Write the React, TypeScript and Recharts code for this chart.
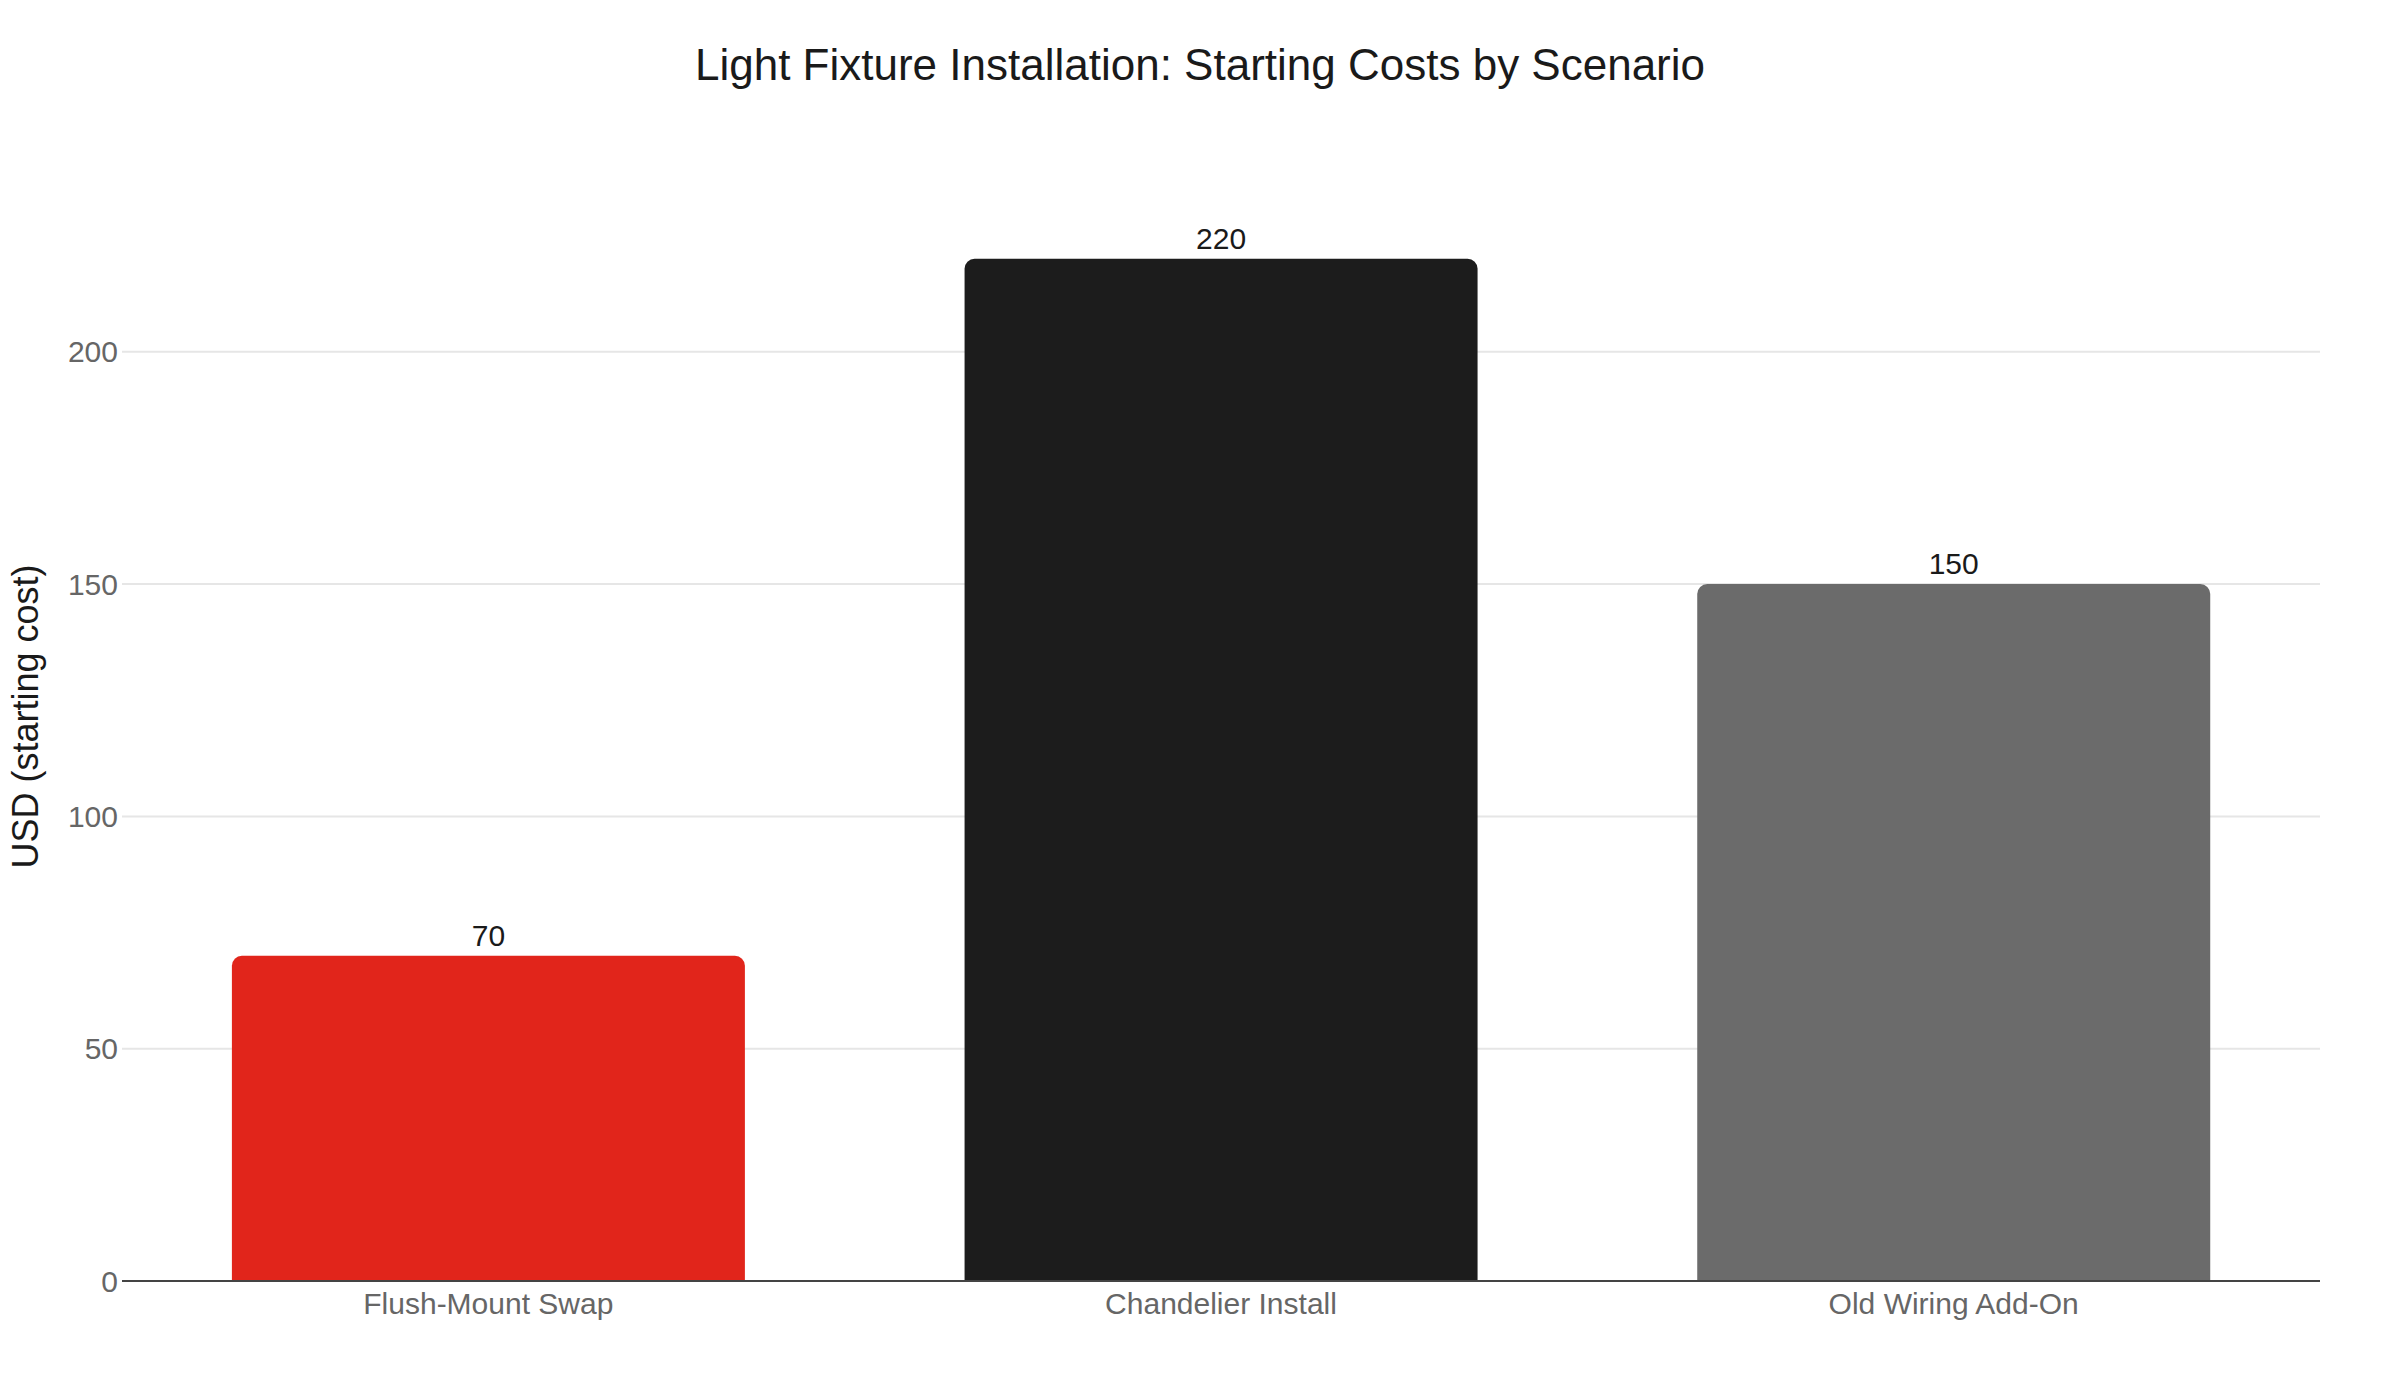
import React from 'react'
import { BarChart, Bar, XAxis, YAxis, CartesianGrid, Cell, LabelList } from 'recharts'

const scenarios = ['Flush-Mount Swap', 'Chandelier Install', 'Old Wiring Add-On']
const startingCosts = [70, 220, 150]
const barColors = ['#E1251B', '#1C1C1C', '#6B6B6B']
const yTicks = [0, 50, 100, 150, 200]

const data = scenarios.map((name, i) => ({ name, cost: startingCosts[i] }))

const FONT = '"Liberation Sans", Arial, Helvetica, sans-serif'

// y axis title, centred on the plot area
function YTitle(props: any) {
  const vb = props.viewBox || {}
  const cy = vb.y + vb.height / 2
  return (
    <text
      x={25}
      y={cy}
      transform={`rotate(-90, 25, ${cy})`}
      textAnchor="middle"
      dominantBaseline="central"
      fontSize={36}
      fontFamily={FONT}
      fill="#1a1a1a"
    >
      USD (starting cost)
    </text>
  )
}

export default function App() {
  return (
    <div style={{ position: 'relative', width: 2400, height: 1400, background: '#fff', fontFamily: FONT }}>
      <style>{'body{margin:0}'}</style>
      <div
        style={{
          position: 'absolute',
          top: 65,
          left: 0,
          width: 2400,
          textAlign: 'center',
          transform: 'translateY(-50%)',
          fontSize: 44,
          color: '#1a1a1a',
          lineHeight: 1,
        }}
      >
        Light Fixture Installation: Starting Costs by Scenario
      </div>
      <BarChart
        width={2400}
        height={1400}
        data={data}
        margin={{ top: 152, right: 80, bottom: 59, left: 42 }}
        barCategoryGap="15%"
      >
        <CartesianGrid stroke="#e6e6e6" strokeWidth={2} horizontal vertical={false} horizontalValues={yTicks} />
        <XAxis
          dataKey="name"
          height={60}
          tick={{ fill: '#666', fontSize: 30, fontFamily: FONT }}
          tickSize={0}
          tickMargin={12}
          axisLine={{ stroke: '#444', strokeWidth: 2 }}
        />
        <YAxis
          width={80}
          domain={[0, 243]}
          ticks={yTicks}
          tick={{ fill: '#666', fontSize: 30, fontFamily: FONT }}
          tickSize={0}
          tickMargin={4}
          axisLine={false}
          label={<YTitle />}
        />
        <Bar dataKey="cost" radius={[10, 10, 0, 0]} isAnimationActive={false}>
          {data.map((d, i) => (
            <Cell key={d.name} fill={barColors[i]} />
          ))}
          <LabelList dataKey="cost" position="top" offset={10} fill="#1a1a1a" fontSize={30} fontFamily={FONT} />
        </Bar>
      </BarChart>
    </div>
  )
}
